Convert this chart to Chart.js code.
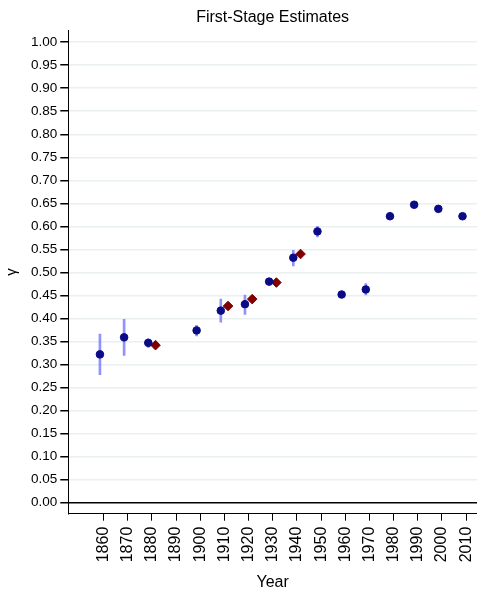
<!DOCTYPE html>
<html>
<head>
<meta charset="utf-8">
<script src="https://cdn.jsdelivr.net/npm/chart.js@4.4.1/dist/chart.umd.min.js"></script>
<style>
  html, body { margin: 0; padding: 0; background: #fff; }
  #wrap { width: 477px; height: 589px; }
</style>
</head>
<body>
<div id="wrap"><canvas id="myChart"></canvas></div>
<script>
// decades with a first-stage estimate (navy dots)
const years = [1860, 1870, 1880, 1900, 1910, 1920, 1930, 1940, 1950, 1960, 1970, 1980, 1990, 2000, 2010];
const gamma = [0.322, 0.359, 0.347, 0.374, 0.417, 0.431, 0.480, 0.532, 0.589, 0.452, 0.463, 0.622, 0.647, 0.638, 0.622];
const gammaLo = [0.278, 0.320, 0.337, 0.362, 0.392, 0.409, 0.475, 0.514, 0.577, 0.447, 0.451, 0.617, 0.643, 0.634, 0.618];
const gammaHi = [0.366, 0.398, 0.356, 0.385, 0.442, 0.451, 0.485, 0.548, 0.600, 0.457, 0.476, 0.627, 0.651, 0.642, 0.626];

// second set of estimates (maroon diamonds)
const altYears = [1880, 1910, 1920, 1930, 1940];
const altGamma = [0.342, 0.427, 0.442, 0.478, 0.540];

// axis ticks
const xTicks = [1860, 1870, 1880, 1890, 1900, 1910, 1920, 1930, 1940, 1950, 1960, 1970, 1980, 1990, 2000, 2010];
const yTicks = [0, 0.05, 0.1, 0.15, 0.2, 0.25, 0.3, 0.35, 0.4, 0.45, 0.5, 0.55, 0.6, 0.65, 0.7, 0.75, 0.8, 0.85, 0.9, 0.95, 1];

const shift = 1.5; // dots sit a bit left of the decade, diamonds a bit right

Chart.defaults.font.family = "'Liberation Sans', Arial, sans-serif";
Chart.defaults.color = '#000';

new Chart(document.getElementById('myChart'), {
  type: 'scatter',
  data: {
    datasets: [
      {
        type: 'bar',
        data: years.map((yr, i) => ({ x: yr - shift, y: [gammaLo[i], gammaHi[i]] })),
        backgroundColor: 'rgba(110, 110, 255, 0.75)',
        barThickness: 2,
        order: 3
      },
      {
        data: years.map((yr, i) => ({ x: yr - shift, y: gamma[i] })),
        backgroundColor: '#0b0b86',
        borderColor: '#0b0b86',
        pointRadius: 3.8,
        order: 1
      },
      {
        data: altYears.map((yr, i) => ({ x: yr + shift, y: altGamma[i] })),
        backgroundColor: '#800000',
        borderColor: '#800000',
        pointStyle: 'rectRot',
        pointRadius: 4.8,
        order: 2
      }
    ]
  },
  options: {
    responsive: true,
    maintainAspectRatio: false,
    animation: false,
    layout: { autoPadding: false, padding: { left: 3, right: 0, top: 0, bottom: 0 } },
    plugins: { legend: { display: false }, tooltip: { enabled: false } },
    scales: {
      x: {
        type: 'linear',
        offset: false,
        min: 1845.4,
        max: 2014.5,
        afterBuildTicks: scale => { scale.ticks = xTicks.map(v => ({ value: v })); },
        afterFit: scale => { scale.paddingRight = 0; scale.paddingLeft = 0; },
        ticks: {
          minRotation: 90, maxRotation: 90,
          autoSkip: false,
          padding: 6,
          font: { size: 16 },
          callback: v => String(v)
        },
        grid: { offset: false, drawOnChartArea: false, tickLength: 7, tickColor: '#000' },
        border: { color: '#000', width: 1 },
        title: { display: true, text: 'Year', font: { size: 16 }, padding: { top: 4.5, bottom: -3 } }
      },
      top: {
        type: 'linear',
        position: 'top',
        min: 1845.4,
        max: 2014.5,
        afterFit: scale => { scale.paddingRight = 0; scale.paddingLeft = 0; },
        ticks: { display: false },
        grid: { display: false, drawTicks: false },
        border: { display: false },
        title: { display: true, text: 'First-Stage Estimates', font: { size: 16 }, padding: { top: 8, bottom: 3 } }
      },
      y: {
        min: -0.024,
        max: 1.026,
        afterBuildTicks: scale => { scale.ticks = yTicks.map(v => ({ value: v })); },
        ticks: { padding: 3, font: { size: 13.5 }, callback: v => v.toFixed(2) },
        grid: {
          color: ctx => (ctx.tick && ctx.tick.value === 0) ? '#000' : '#eaf0f2',
          lineWidth: 1.5,
          tickLength: 8,
          tickColor: '#000'
        },
        border: { color: '#000', width: 1 },
        title: { display: true, text: 'γ', font: { size: 15 }, padding: { top: 0, bottom: 7 } }
      }
    }
  }
});
</script>
</body>
</html>
